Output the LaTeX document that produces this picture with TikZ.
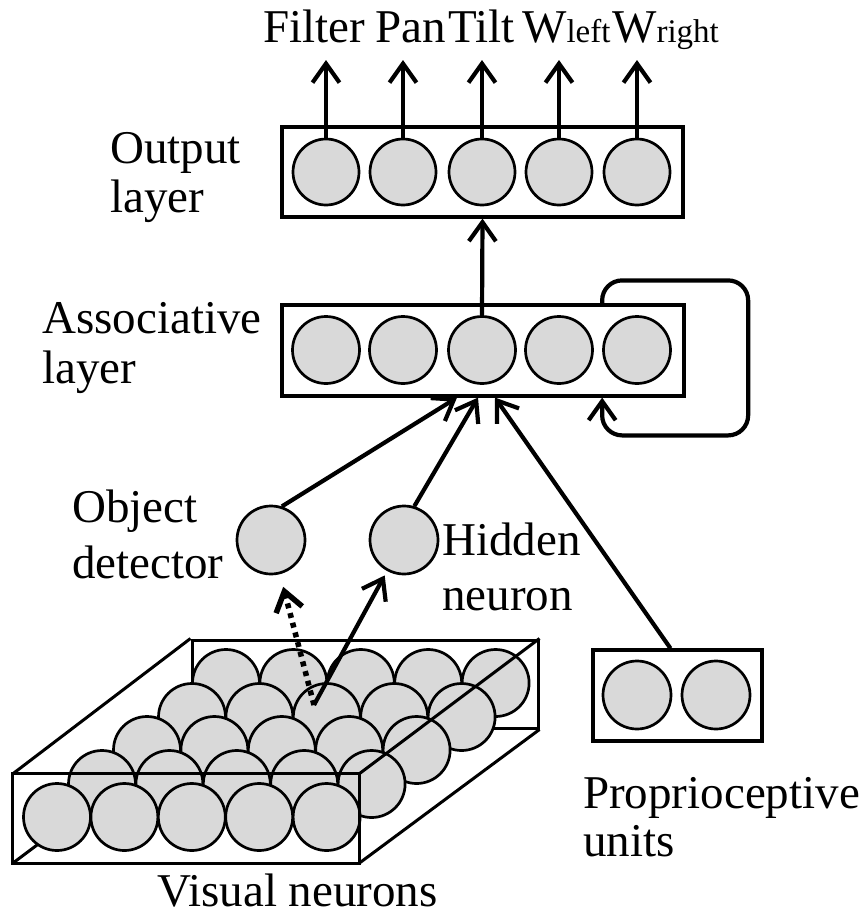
\documentclass[tikz,border=0pt]{standalone}
\usepackage{fontspec}
\setmainfont{Liberation Serif}
\usetikzlibrary{arrows.meta}
\definecolor{cgray}{RGB}{217,217,217}
\begin{document}
\begin{tikzpicture}[x=1pt,y=-1pt,
  neuron/.style={circle,draw,fill=cgray,line width=2.7pt,minimum size=67pt,inner sep=0pt},
  layerbox/.style={draw,line width=3.2pt,inner sep=0pt},
  cuboid/.style={line width=3pt},
  lab/.style={anchor=base west,inner sep=0pt,font=\fontsize{47}{50}\selectfont},
  conn/.style={line width=4.2pt,-{Straight Barb[length=19pt,width=27pt]}},
  dotconn/.style={conn,dash pattern=on 5pt off 5pt,line width=5.5pt}
]
\useasboundingbox (0,0) rectangle (864,918);

% ---------- output layer ----------
\node[layerbox,minimum width=401pt,minimum height=90pt] (obox) at (482.5,172) {};
\foreach \i/\x in {1/326,2/403,3/482,4/559,5/637}{
  \node[neuron,minimum size=66pt] (o\i) at (\x,172) {};
  \coordinate (t\i) at (\x,60);
  \draw[conn] (o\i.north) -- (t\i);
}
\node[lab] (lfilter) at (263,42) {Filter};
\node[lab] (lpan) at (375,42) {Pan};
\node[lab] (ltilt) at (448,42) {Tilt};
\node[lab] (lwl) at (522,42) {W{\fontsize{33}{36}\selectfont left}};
\node[lab] (lwr) at (612,42) {W{\fontsize{33}{36}\selectfont right}};
\node[lab] (lout1) at (110,163) {Output};
\node[lab] (lout2) at (110,212) {layer};

% ---------- associative layer ----------
\node[layerbox,minimum width=402pt,minimum height=91pt] (abox) at (483,350.5) {};
\foreach \i/\x in {1/326,2/403,3/482,4/559,5/637}{
  \node[neuron] (a\i) at (\x,350) {};
}
\node[lab] (lass1) at (42,333) {Associative};
\node[lab] (lass2) at (42,383) {layer};
\draw[conn] (a3.north) -- (obox.south);
\draw[conn,rounded corners=20pt] (a5.west |- abox.north) -- ++(0,-23) -- ++(146,0) -- ++(0,155) -- ++(-146,0) -- (a5.west |- abox.south);

% ---------- object detector / hidden neuron ----------
\node[neuron,minimum size=68pt] (det) at (271,540) {};
\node[neuron,minimum size=68pt] (hid) at (404,540) {};
\node[lab] (ldet1) at (72,522) {Object};
\node[lab] (ldet2) at (72,578) {detector};
\node[lab] (lhid1) at (442,555) {Hidden};
\node[lab] (lhid2) at (442,610) {neuron};
\draw[conn] (det.72) -- ([xshift=-26pt]abox.south);
\draw[conn] (hid.73) -- ([xshift=-5pt]abox.south);

% ---------- proprioceptive units ----------
\node[layerbox,minimum width=169pt,minimum height=91pt] (pbox) at (677.5,695.5) {};
\node[neuron,minimum size=68pt] (p1) at (637,695) {};
\node[neuron,minimum size=68pt] (p2) at (716,695) {};
\node[lab] (lpro1) at (583,808) {Proprioceptive};
\node[lab] (lpro2) at (583,856) {units};
\draw[conn] ([xshift=-7pt]pbox.north) -- ([xshift=12pt]abox.south);

% ---------- visual neurons ----------
\node[draw,cuboid,inner sep=0pt,minimum width=346pt,minimum height=88pt] (vback) at (365,684) {};
\node[inner sep=0pt,minimum width=346pt,minimum height=89pt] (vfront) at (186,818.5) {};
\draw[cuboid] (vfront.south west) -- (vback.south west);
\foreach \r/\sx/\sy in {1/226/683,2/192/717,3/147/750,4/102/784,5/57/817}{
  \foreach \c in {0,...,4}{
    \node[neuron] (v\r\c) at ({\sx+67.4*\c},\sy) {};
  }
}
\draw[cuboid] (vfront.south west) rectangle (vfront.north east);
\draw[cuboid] (vfront.north west) -- (vback.north west);
\draw[cuboid] (vfront.north east) -- (vback.north east);
\draw[cuboid] (vfront.south east) -- (vback.south east);
\node[lab] (lvis) at (157,906) {Visual neurons};

\coordinate (vsrc) at (314,705);
\draw[dotconn,shorten >=13pt] (vsrc) -- (det);
\draw[conn,shorten >=5pt] (vsrc) -- (hid);
\end{tikzpicture}
\end{document}
